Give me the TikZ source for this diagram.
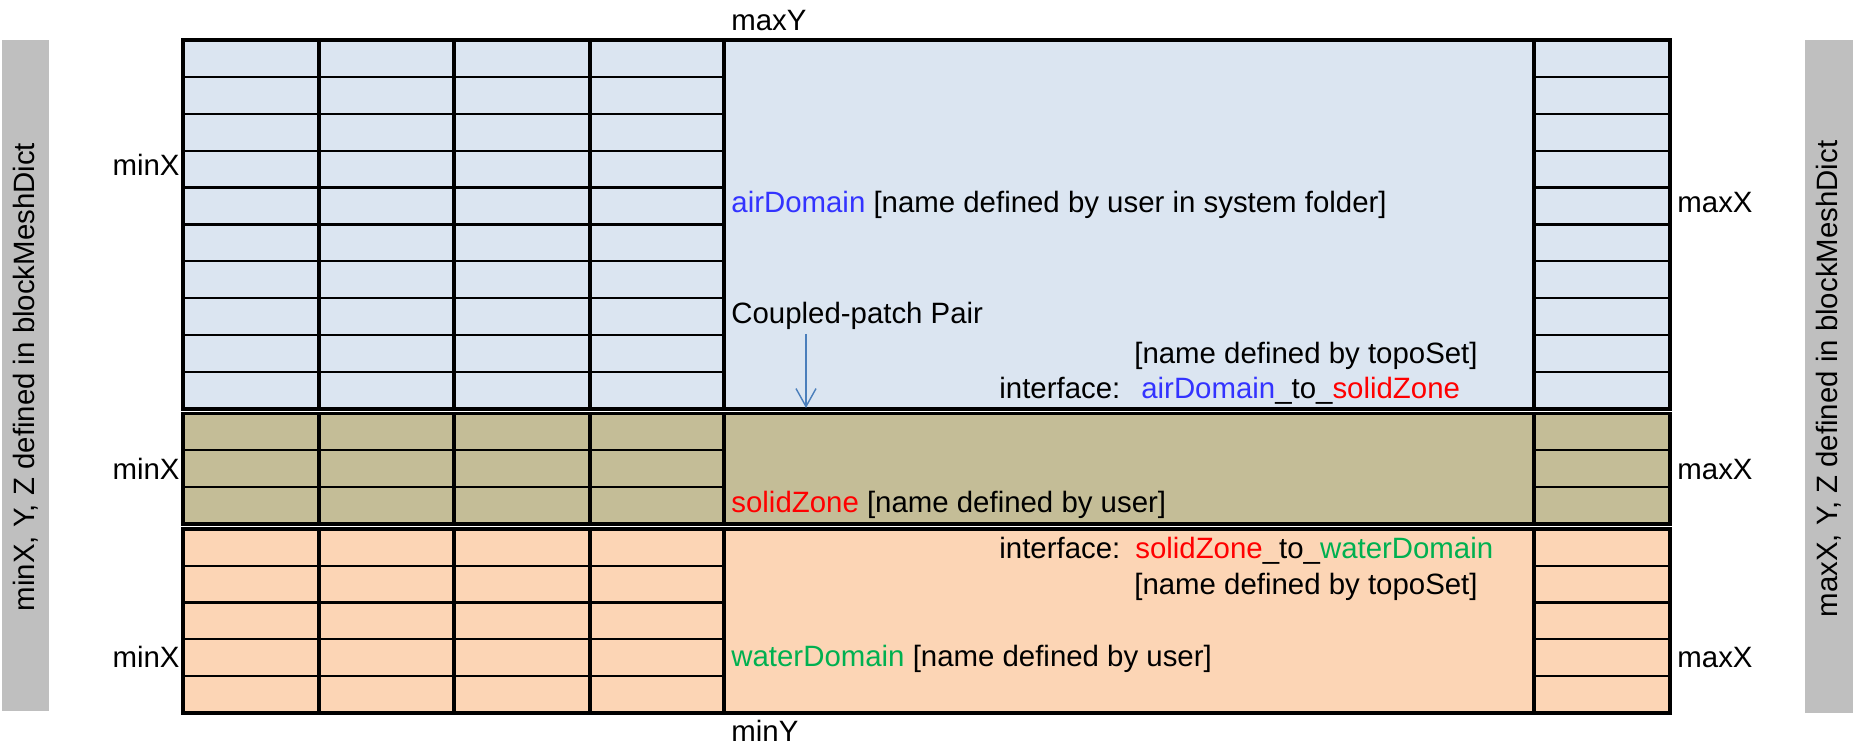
\documentclass[tikz,border=0pt]{standalone}
\usepackage{fontspec}
\setmainfont{Liberation Sans}
\usetikzlibrary{arrows.meta}
\definecolor{airfill}{HTML}{DBE5F1}
\definecolor{solidfill}{HTML}{C4BD97}
\definecolor{waterfill}{HTML}{FCD5B5}
\definecolor{barfill}{HTML}{BFBFBF}
\definecolor{arrowblue}{HTML}{4A7EBB}
\definecolor{airblue}{HTML}{3333FF}
\definecolor{solidred}{HTML}{FF0000}
\definecolor{watergreen}{HTML}{00B050}
\begin{document}
\begin{tikzpicture}[x=0.5pt,y=-0.5pt,
  font=\fontsize{14.7pt}{17pt}\selectfont,
  lblw/.style={inner sep=0pt, anchor=base west},
  lble/.style={inner sep=0pt, anchor=base east},
  outerline/.style={line width=1.6pt},
  rowline/.style={line width=1.1pt},
  sidelbl/.style={rotate=90, inner sep=0pt}]
\useasboundingbox (0,0) rectangle (1865,747);

% side bars
\fill[barfill] (2,40) rectangle (49,711);
\node[sidelbl] (leftlbl) at (25.5,377) {minX, Y, Z defined in blockMeshDict};
\fill[barfill] (1805,40) rectangle (1853,713);
\node[sidelbl] (rightlbl) at (1829,379) {maxX, Y, Z defined in blockMeshDict};

% domains
\filldraw[fill=airfill, outerline] (183,40) rectangle (1670,409);
\filldraw[fill=solidfill, outerline] (183,413.5) rectangle (1670,524);
\filldraw[fill=waterfill, outerline] (183,529) rectangle (1670,713);

% row lines
\foreach \k in {1,...,9} {
  \draw[rowline] (183,{40+\k*36.9}) -- (724,{40+\k*36.9});
  \draw[rowline] (1534,{40+\k*36.9}) -- (1670,{40+\k*36.9});
}
\foreach \k in {1,2} {
  \draw[rowline] (183,{413.5+\k*36.83}) -- (724,{413.5+\k*36.83});
  \draw[rowline] (1534,{413.5+\k*36.83}) -- (1670,{413.5+\k*36.83});
}
\foreach \k in {1,...,4} {
  \draw[rowline] (183,{529+\k*36.8}) -- (724,{529+\k*36.8});
  \draw[rowline] (1534,{529+\k*36.8}) -- (1670,{529+\k*36.8});
}

% column lines
\foreach \x in {319,454,590,724,1534} {
  \draw[outerline] (\x,40) -- (\x,409);
  \draw[outerline] (\x,413.5) -- (\x,524);
  \draw[outerline] (\x,529) -- (\x,713);
}

% labels
\node[lblw] (maxY) at (731,30.5) {maxY};
\node[lblw] (minY) at (731,742) {minY};
\node[lble] (minXa) at (180,176) {minX};
\node[lble] (minXs) at (180,480) {minX};
\node[lble] (minXw) at (180,668) {minX};
\node[lblw] (maxXa) at (1677,212.5) {maxX};
\node[lblw] (maxXs) at (1677,480) {maxX};
\node[lblw] (maxXw) at (1677,668) {maxX};

\node[lblw] (airname) at (731,212.5) {\textcolor{airblue}{airDomain} [name defined by user in system folder]};
\node[lblw] (coupled) at (731,324) {Coupled-patch Pair};
\node[lble] (topo1) at (1478,364) {[name defined by topoSet]};
\node[lblw] (iface1) at (999,399) {interface:\hspace{10.5pt}\textcolor{airblue}{airDomain}\_to\_\textcolor{solidred}{solidZone}};
\node[lblw] (solidname) at (731,513) {\textcolor{solidred}{solidZone} [name defined by user]};
\node[lblw] (iface2) at (999,559) {interface:\hspace{7.5pt}\textcolor{solidred}{solidZone}\_to\_\textcolor{watergreen}{waterDomain}};
\node[lble] (topo2) at (1478,595) {[name defined by topoSet]};
\node[lblw] (watername) at (731,667) {\textcolor{watergreen}{waterDomain} [name defined by user]};

% arrow
\coordinate (arrowtail) at (806,334);
\coordinate (arrowtip) at (806,408);
\draw[arrowblue, line width=0.7pt, -{Straight Barb[length=9pt,width=10pt]}] (arrowtail) -- (arrowtip);
\end{tikzpicture}
\end{document}
